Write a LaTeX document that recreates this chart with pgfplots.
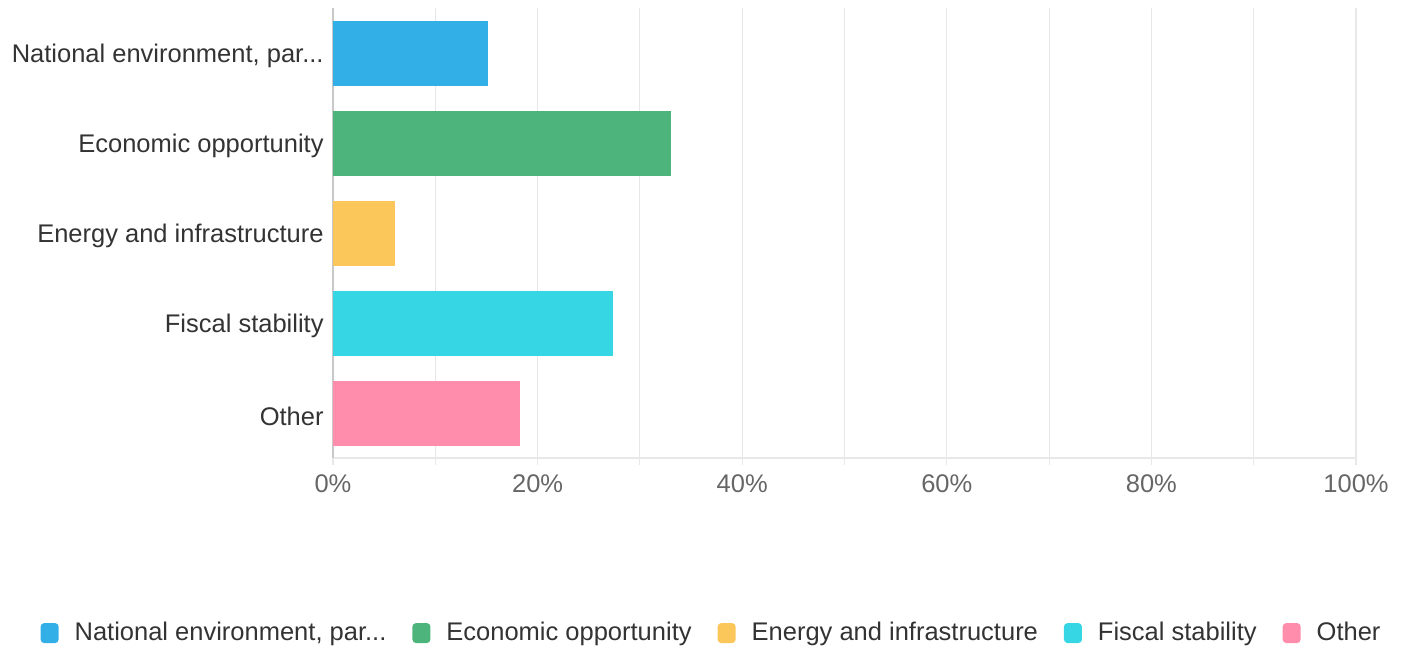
\documentclass[border=0pt]{standalone}
\usepackage{pgfplots}
\pgfplotsset{compat=1.18}
\usepackage{fontspec}
\setmainfont{Liberation Sans}
\newcommand\dotz{...}
\definecolor{cBlue}{HTML}{31AFE6}
\definecolor{cGreen}{HTML}{4DB57C}
\definecolor{cYellow}{HTML}{FCC75A}
\definecolor{cCyan}{HTML}{37D6E5}
\definecolor{cPink}{HTML}{FF8DAB}
\definecolor{cGrid}{HTML}{E8E8E8}
\definecolor{cAxis}{HTML}{C8C8C8}
\definecolor{cText}{HTML}{333333}
\definecolor{cTick}{HTML}{666666}
\begin{document}
\begin{tikzpicture}
\path[use as bounding box] (-166.5pt,-95.5pt) rectangle (537.5pt,229pt);
\begin{axis}[
  at={(0,0)}, anchor=south west,
  scale only axis,
  width=511.5pt, height=225pt,
  xbar, bar width=32.5pt,
  xmin=0, xmax=100,
  ymin=-0.5, ymax=4.5,
  y dir=reverse,
  ytick={0,1,2,3,4},
  yticklabels={{National environment, par\dotz}, Economic opportunity, Energy and infrastructure, Fiscal stability, Other},
  xtick={0,20,40,60,80,100},
  minor xtick={10,30,50,70,90},
  xticklabel={\pgfmathprintnumber{\tick}\%},
  /pgf/number format/assume math mode=true,
  xmajorgrids, xminorgrids,
  major grid style={draw=cGrid, line width=0.6pt},
  minor grid style={draw=cGrid, line width=0.6pt},
  axis x line*=bottom, axis y line*=left,
  axis line style={-},
  x axis line style={draw=cGrid, line width=0.6pt},
  y axis line style={draw=cAxis, line width=0.8pt},
  ytick style={draw=none},
  xtick style={draw=cGrid, line width=0.6pt},
  minor tick style={draw=cGrid, line width=0.6pt},
  tick align=outside,
  major tick length=3.5pt, minor tick length=3.5pt,
  yticklabel style={font=\fontsize{12.75}{15}\selectfont, text=cText, inner sep=0pt, yshift=-1.5pt},
  yticklabel shift=1pt,
  xticklabel style={font=\fontsize{12.75}{15}\selectfont, text=cTick, inner sep=0pt},
  xticklabel shift=4.5pt,
  legend columns=-1,
  legend style={at={(0.371,-0.389)}, anchor=center, draw=none, fill=none,
    font=\fontsize{12.75}{15}\selectfont, text=cText,
    /tikz/every odd column/.append style={column sep=6pt},
    /tikz/every even column/.append style={column sep=11pt}},
  legend cell align=left,
  legend image code/.code={\fill[#1, rounded corners=1.8pt] (0pt,-5pt) rectangle (9pt,5pt);},
]
\addplot[fill=cBlue, draw=none, bar shift=0pt] coordinates {(15.2,0)};
\addplot[fill=cGreen, draw=none, bar shift=0pt] coordinates {(33.0,1)};
\addplot[fill=cYellow, draw=none, bar shift=0pt] coordinates {(6.1,2)};
\addplot[fill=cCyan, draw=none, bar shift=0pt] coordinates {(27.4,3)};
\addplot[fill=cPink, draw=none, bar shift=0pt] coordinates {(18.3,4)};
\legend{{National environment, par\dotz}, Economic opportunity, Energy and infrastructure, Fiscal stability, Other}
\end{axis}
\end{tikzpicture}
\end{document}
